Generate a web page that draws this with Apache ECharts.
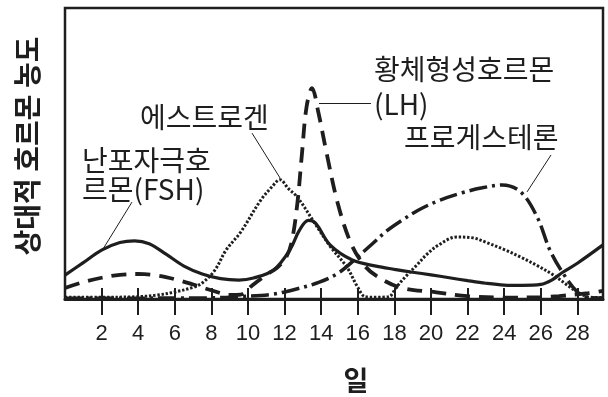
<!DOCTYPE html>
<html><head><meta charset="utf-8">
<script src="https://cdn.jsdelivr.net/npm/echarts@6/dist/echarts.min.js"></script>
<style>html,body{margin:0;padding:0;background:#fff}#c{width:608px;height:397px}</style>
</head><body><div id="c"></div>
<script>
// Day ticks
const xTicks = [2,4,6,8,10,12,14,16,18,20,22,24,26,28];
// [day, relative concentration 0-100]
const fsh = [[0,8.2],[1,12.5],[2,16.8],[3,19.4],[3.8,20],[4.6,19],[5.5,15.5],[6.5,11.3],[7.5,8.6],[8.5,7],[9.5,6.5],[10.3,7.2],[11.4,10],[12.3,17],[12.8,23.5],[13.3,27],[13.7,26],[14.5,18.5],[15.7,13.4],[17,11.3],[18,10.2],[19,9.2],[20,8.3],[21,7.3],[22,6.3],[23,5.4],[24,4.8],[25,4.7],[26,5],[26.6,6.5],[27.2,9.2],[28,12.3],[29.4,18.6]];
const lh = [[0,3.8],[1,5.8],[2,7.3],[3,8.3],[4,8.6],[5,8.1],[6,6.8],[7,5],[8,3],[9,1.4],[9.6,1.5],[10.2,4.5],[11,8.3],[11.6,10.8],[12.1,14.5],[12.4,20],[12.7,33],[12.95,50],[13.2,66],[13.5,72.5],[13.85,64],[14.3,50],[14.9,33],[15.6,19.5],[16.3,12],[17,8],[18.3,4],[20.3,2.3],[22,1],[24,0.5],[26,0.6],[27,1],[28.6,2],[29.4,2.8]];
const estrogen = [[0,0.6],[2,0.6],[4,0.8],[5,1.3],[6,2.4],[7,4],[7.5,5.5],[8.2,10],[8.8,16.8],[9.6,23],[10.7,34],[11.3,38.5],[11.75,41],[12.2,38],[12.7,35],[13.55,27],[14.5,18],[15.4,11],[16,4],[16.4,0.8],[17,0.6],[17.7,0.8],[18.1,4],[18.6,7.6],[19.2,11.5],[19.8,15.5],[20.4,18.5],[21.4,21.3],[22.3,21],[23,19.5],[24,17],[24.9,14.4],[25.8,11.5],[26.7,8.2],[27.4,5],[28,2.4],[28.7,0.6],[29.4,0.5]];
const progesterone = [[0,0.3],[4,0.3],[8,0.4],[9.5,0.8],[11.2,1.5],[12.5,3.2],[13.9,5.8],[15,9.2],[16,14.5],[16.8,19],[17.6,23.5],[18.4,27],[19.3,30.5],[20.5,34],[21.7,36.5],[22.8,38.2],[23.9,39.2],[24.9,36.8],[25.8,28.2],[26.5,16.8],[27.2,9],[28,2.4],[28.6,0.6],[29.4,0.3]];
// leader lines [[day,value],[day,value]]
const leaders = [
  [[3.66,33.3],[2.08,17.2]],
  [[10.22,57],[11.75,41.6]],
  [[13.88,67.4],[16.72,67.4]],
  [[26.56,49.5],[25.25,36.8]]
];
const labels = [
  {text:'난포자극호', x:82, y:163},
  {text:'르몬(FSH)', x:82, y:192},
  {text:'에스트로겐', x:140, y:120},
  {text:'황체형성호르몬', x:374, y:72},
  {text:'(LH)', x:374, y:107},
  {text:'프로게스테론', x:404, y:140}
];

const ink = '#1e1e1e';
const chart = echarts.init(document.getElementById('c'));
const xBase = {type:'value', min:0, max:29.4, position:'bottom', splitLine:{show:false}};
chart.setOption({
  animation:false,
  grid:{left:65, top:8, right:5, bottom:98, show:true, borderColor:ink, borderWidth:2.5, backgroundColor:'transparent'},
  xAxis:[
    Object.assign({}, xBase, {
      axisLine:{show:true, lineStyle:{color:ink, width:3}},
      axisTick:{show:true, inside:true, length:11, customValues:xTicks, lineStyle:{color:ink, width:2}},
      axisLabel:{show:false}
    }),
    Object.assign({}, xBase, {
      axisLine:{show:false},
      axisTick:{show:true, inside:false, length:16, customValues:xTicks, lineStyle:{color:ink, width:2}},
      axisLabel:{show:true, customValues:xTicks, margin:24, color:ink, fontSize:22, fontFamily:'Liberation Sans'}
    })
  ],
  yAxis:{type:'value', min:0, max:100, show:false},
  series:[
    {type:'line', data:estrogen, smooth:0.35, symbol:'none', lineStyle:{color:ink, width:3, type:[2.4,1.8]}, z:2},
    {type:'line', data:progesterone, smooth:0.35, symbol:'none', lineStyle:{color:ink, width:3.5, type:[18,5,3,5]}, z:3},
    {type:'line', data:lh, smooth:0.35, symbol:'none', lineStyle:{color:ink, width:3.8, type:[15,9]}, z:4},
    {type:'line', data:fsh, smooth:0.35, symbol:'none', lineStyle:{color:ink, width:3.2}, z:5,
      markLine:{silent:true, symbol:'none', label:{show:false}, animation:false,
        lineStyle:{color:ink, width:1, type:'solid'},
        data: leaders.map(l => [{coord:l[0]},{coord:l[1]}])}}
  ],
  graphic:[
    ...labels.map(l => ({type:'text', left:l.x, top:l.y-17, style:{text:l.text, fill:ink, font:'28px "Noto Sans CJK KR"'}})),
    {type:'text', x:27, y:146, rotation:Math.PI/2, style:{text:'상대적 호르몬 농도', fill:ink, font:'bold 28px "Noto Sans CJK KR"', align:'center', verticalAlign:'middle'}},
    {type:'text', x:356, y:381, style:{text:'일', fill:ink, font:'bold 27px "Noto Sans CJK KR"', align:'center', verticalAlign:'middle'}}
  ]
});
</script></body></html>
